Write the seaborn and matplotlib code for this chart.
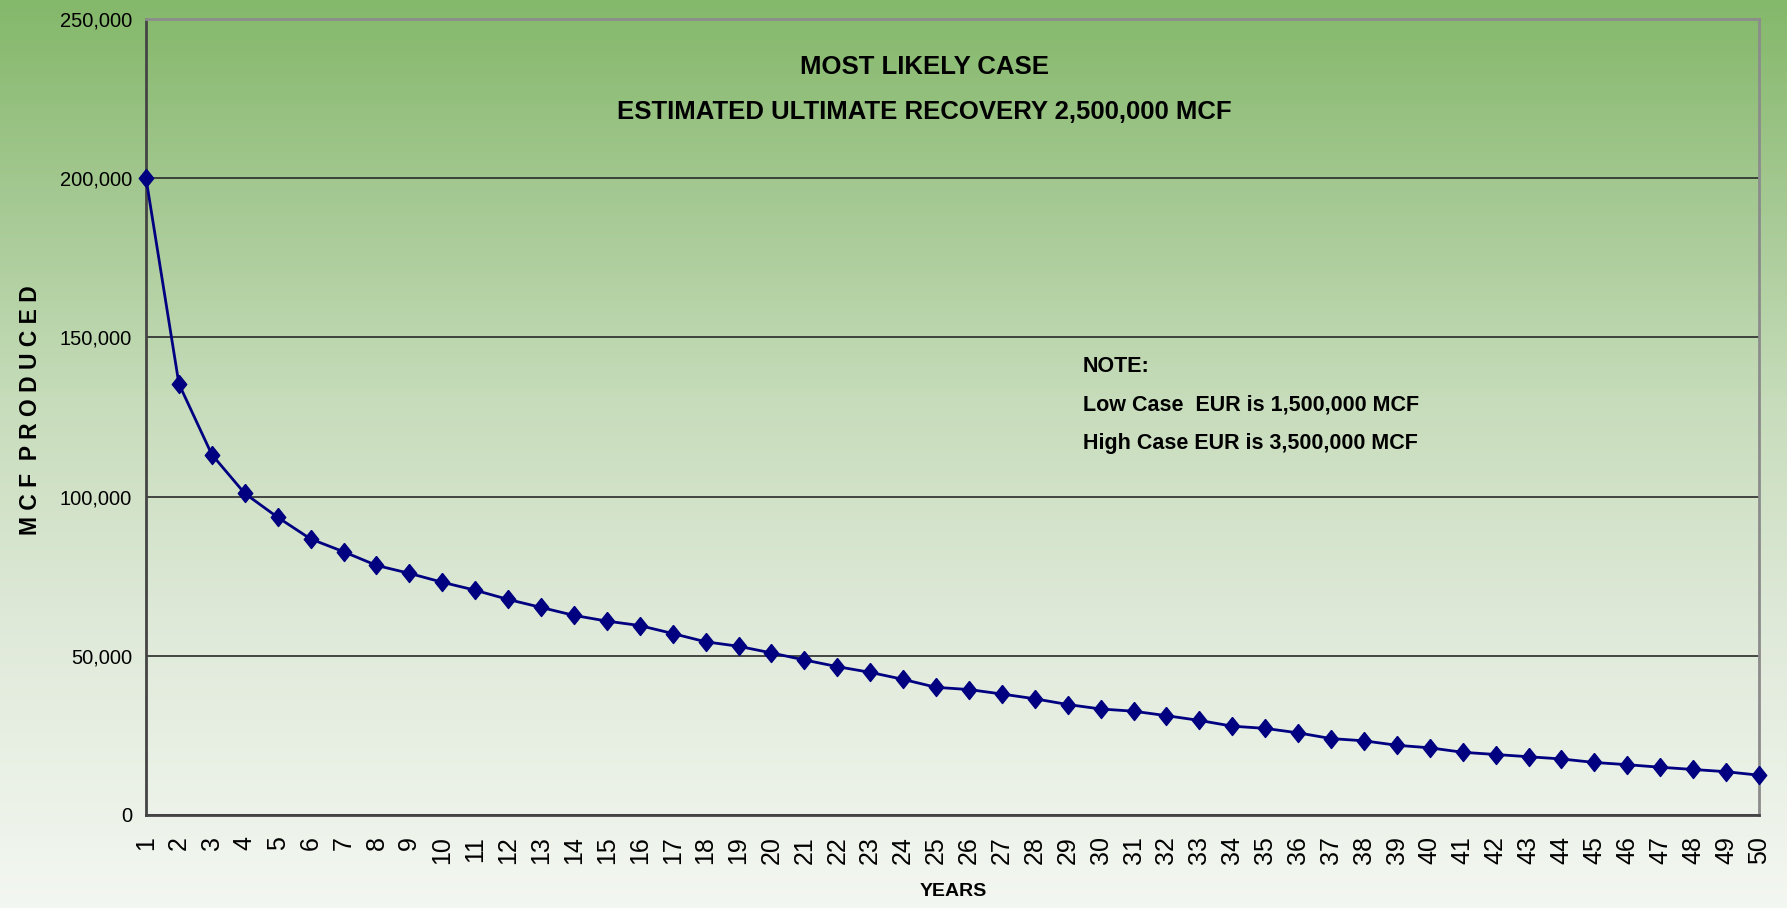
import numpy as np
import matplotlib
matplotlib.use('Agg')
import matplotlib.pyplot as plt
import seaborn as sns
from matplotlib.colors import LinearSegmentedColormap
from matplotlib.ticker import FuncFormatter

# Production profile (MCF per year)
years = list(range(1, 51))
mcf_produced = [200000, 135400, 113200, 101000, 93500, 86700, 82700, 78400, 75900, 73100,
                70600, 67700, 65200, 62700, 60900, 59500, 57000, 54400, 53000, 50900,
                48700, 46600, 44800, 42600, 40100, 39400, 38000, 36500, 34700, 33300,
                32600, 31200, 29700, 27900, 27200, 25800, 24000, 23300, 21900, 21100,
                19700, 19000, 18300, 17600, 16500, 15800, 15000, 14300, 13600, 12500]

title_lines = ['MOST LIKELY CASE', 'ESTIMATED ULTIMATE RECOVERY 2,500,000 MCF']
note_lines = ['NOTE:', 'Low Case  EUR is 1,500,000 MCF', 'High Case EUR is 3,500,000 MCF']

sns.set_style('white')
plt.rcParams['font.family'] = ['Liberation Sans', 'DejaVu Sans']
plt.rcParams.update({'text.color': 'black', 'xtick.color': 'black', 'ytick.color': 'black'})

W, H = 1787, 908
fig = plt.figure(figsize=(W / 100, H / 100), dpi=100)

# Background gradient, green on top fading to near-white
bg = fig.add_axes([0, 0, 1, 1], zorder=0)
cmap = LinearSegmentedColormap.from_list('bg', [(0.0, '#84b86a'), (0.2, '#a2c78f'),
                                                (0.45, '#c8ddbc'), (0.7, '#e0eada'),
                                                (1.0, '#f3f7f1')])
bg.imshow(np.linspace(0, 1, 256).reshape(-1, 1), aspect='auto', cmap=cmap,
          extent=[0, 1, 1, 0])
bg.set_axis_off()

ax = fig.add_axes([146 / W, 1 - 815 / H, (1759 - 146) / W, (815 - 19) / H], zorder=1)
ax.set_facecolor('none')

# diamond a bit taller than wide, like the Excel marker
diamond = [(0, 1), (0.8, 0), (0, -1), (-0.8, 0), (0, 1)]
sns.lineplot(x=years, y=mcf_produced, ax=ax, color='#000080', linewidth=2,
             marker=diamond, markersize=13, markeredgewidth=1,
             markeredgecolor='#000080', zorder=3, clip_on=False)

ax.set_xlim(1, 50)
ax.set_ylim(0, 250000)
ax.set_xticks(years)
ax.set_xticklabels([str(y) for y in years], rotation=90, fontsize=18)
ax.set_yticks(range(0, 250001, 50000))
ax.yaxis.set_major_formatter(FuncFormatter(lambda v, p: f'{int(v):,}'))
ax.tick_params(axis='y', labelsize=14.5, direction='out', length=4, width=1.2,
               color='#404040', pad=6)
ax.tick_params(axis='x', direction='out', length=6, width=1.2, color='#404040', pad=9)
ax.grid(axis='y', color='#2a2a2a', linewidth=1.2)
ax.grid(axis='x', visible=False)
ax.set_axisbelow(True)

for side in ['left', 'bottom']:
    ax.spines[side].set_color('#444444')
    ax.spines[side].set_linewidth(2)
for side in ['top', 'right']:
    ax.spines[side].set_color('#8c8c8c')
    ax.spines[side].set_linewidth(2)

ax.set_xlabel('')
ax.set_ylabel('')

# Titles and notes
for i, line in enumerate(title_lines):
    fig.text(924 / W, 1 - (67 + 45 * i) / H, line, ha='center', va='center',
             fontsize=18.5, fontweight='bold')
for i, line in enumerate(note_lines):
    fig.text(1083 / W, 1 - (367 + 38 * i) / H, line, ha='left', va='center',
             fontsize=15.5, fontweight='bold')

fig.text(953 / W, 1 - 891 / H, 'YEARS', ha='center', va='center',
         fontsize=14, fontweight='bold')
fig.text(31 / W, 1 - 410 / H, 'M C F  P R O D U C E D', ha='center', va='center',
         rotation=90, fontsize=16.5, fontweight='bold')

fig.savefig('out.png', dpi=100)
